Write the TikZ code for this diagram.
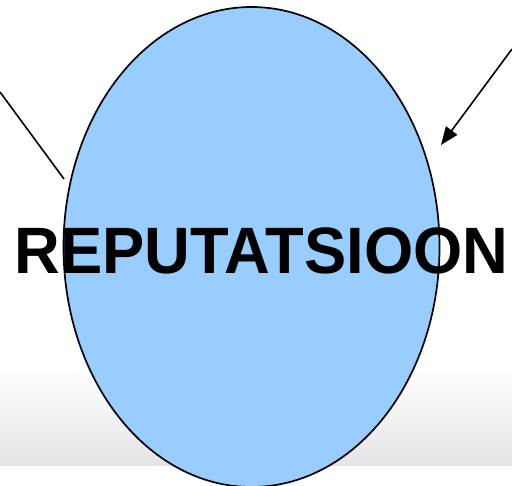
\documentclass[tikz,border=0pt]{standalone}
\usepackage{fontspec}
\setmainfont{Liberation Sans}
\usetikzlibrary{arrows.meta,shapes.geometric}
\definecolor{ovalblue}{HTML}{99CCFF}
\definecolor{bandgray}{HTML}{E4E4E6}
\tikzset{
  conn/.style={line width=1.6pt,black},
  bigtext/.style={font=\fontsize{65.6}{70}\selectfont\bfseries,inner sep=0pt,xscale=0.965}
}
\begin{document}
\begin{tikzpicture}[x=1pt,y=-1pt]
\useasboundingbox (0,0) rectangle (512,486);
\fill[white] (0,0) rectangle (512,486);
\shade[top color=white,bottom color=bandgray] (0,368) rectangle (512,466);
\node[ellipse,draw=black,line width=1.7pt,fill=ovalblue,minimum width=376pt,minimum height=480pt,inner sep=0pt] (oval) at (251.5,247) {};
\coordinate (lstart) at (0,92);
\coordinate (lend) at (64,179);
\coordinate (rstart) at (512,49);
\coordinate (rend) at (441,145);
\draw[conn] (lstart) -- (lend);
\draw[conn,-{Triangle[length=18pt,width=14pt]}] (rstart) -- (rend);
\node[bigtext,anchor=base] (label) at (261.5,274) {REPUTATSIOON};
\end{tikzpicture}
\end{document}
